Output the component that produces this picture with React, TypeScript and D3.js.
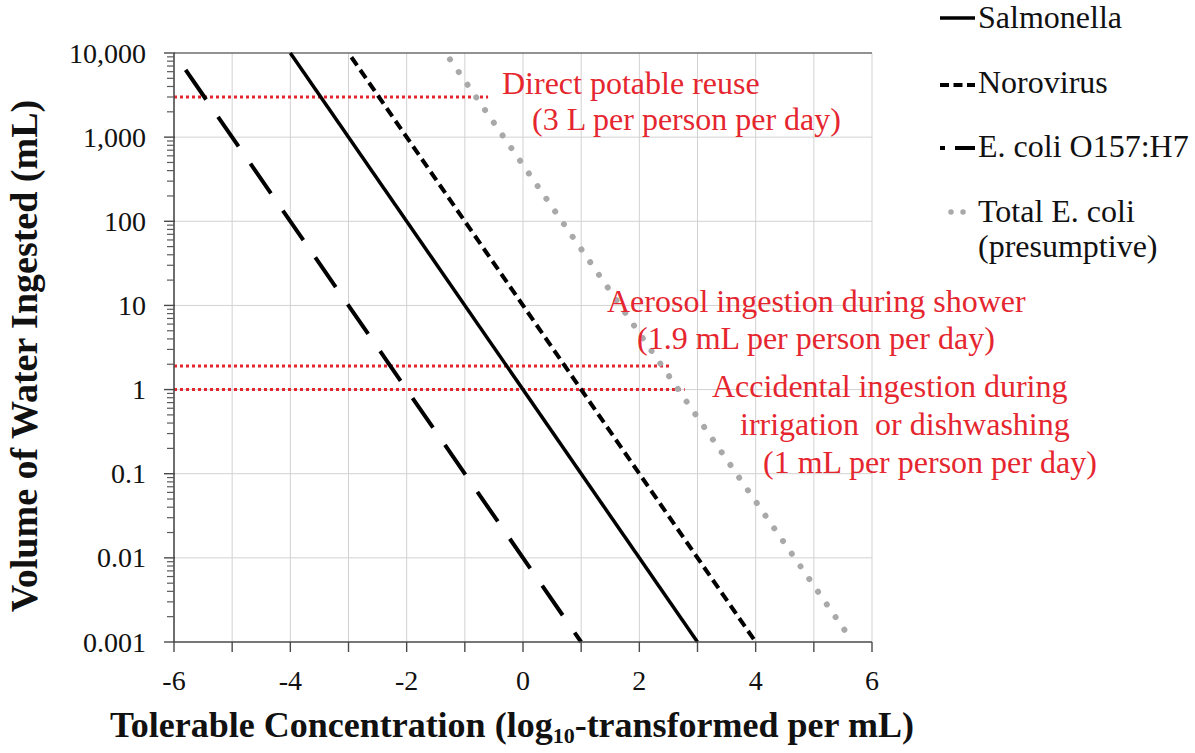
import React from 'react';
import * as d3 from 'd3';

// ---- data ----
const xTicks = [-6, -5, -4, -3, -2, -1, 0, 1, 2, 3, 4, 5, 6];
const xLabelTicks = [-6, -4, -2, 0, 2, 4, 6];
const yTicks = [0.001, 0.01, 0.1, 1, 10, 100, 1000, 10000];
const yTickLabels = ['0.001', '0.01', '0.1', '1', '10', '100', '1,000', '10,000'];

const salmonella = [{ x: -4, y: 10000 }, { x: 3, y: 0.001 }];
const norovirus = [{ x: -2.95, y: 8900 }, { x: 4, y: 0.001 }];
const ecoliO157 = [{ x: -5.8, y: 6300 }, { x: 1, y: 0.001 }];
const totalEcoli = [{ x: -1.255, y: 8400 }, { x: 5.67, y: 0.001 }];

const seriesNames = ['Salmonella', 'Norovirus', 'E. coli O157:H7', 'Total E. coli'];

const exposureVolumes = [3000, 1.9, 1];
const exposureXEnd = [-0.6, 2.56, 2.78];

const annotationLines = [
  'Direct potable reuse',
  '(3 L per person per day)',
  'Aerosol ingestion during shower',
  '(1.9 mL per person per day)',
  'Accidental ingestion during',
  'irrigation  or dishwashing',
  '(1 mL per person per day)',
];

// ---- layout ----
const W = 1195;
const H = 753;
const X0 = 174, X1 = 872, Y0 = 642, Y1 = 53;
const FONT = "'Liberation Serif', 'Times New Roman', Times, serif";
const RED = '#e5262f';
const annotationPos = [
  [502, 94], [532, 130], [607, 312], [637, 349], [712, 397], [740, 435], [763, 473],
];

export default function App() {
  const x = d3.scaleLinear().domain([-6, 6]).range([X0, X1]);
  const y = d3.scaleLog().domain([0.001, 10000]).range([Y0, Y1]);
  const line = d3
    .line<{ x: number; y: number }>()
    .x((d) => x(d.x))
    .y((d) => y(d.y));

  const minorTicks: number[] = [];
  for (let e = -3; e < 4; e++) {
    for (let k = 2; k <= 9; k++) minorTicks.push(k * Math.pow(10, e));
  }

  const series = [
    { data: salmonella, stroke: '#000', width: 3.5, dash: undefined, cap: 'butt' },
    { data: norovirus, stroke: '#000', width: 4, dash: '10,5.5', cap: 'butt' },
    { data: ecoliO157, stroke: '#000', width: 4, dash: '36,21', cap: 'butt' },
    { data: totalEcoli, stroke: '#a9a9a9', width: 6, dash: '0.01,15.4', cap: 'round' },
  ];

  const legendY = [18, 85, 148, 212];
  const legendBase = [28, 93, 157, 222];
  const legendDash = [undefined, '9,4.5', '5,10,22', '0.01,12'];

  return (
    <svg
      width={W}
      height={H}
      style={{ position: 'absolute', left: 0, top: 0, background: '#fff', fontFamily: FONT }}
    >
      <rect x={0} y={0} width={W} height={H} fill="#fff" />
      {/* grid */}
      {xTicks.filter((t) => t > -6).map((t) => (
        <line key={'gx' + t} x1={x(t)} x2={x(t)} y1={Y1} y2={Y0} stroke="#d2d2d2" strokeWidth={1} />
      ))}
      {yTicks.filter((t) => t < 10000 && t > 0.001).map((t) => (
        <line key={'gy' + t} x1={X0} x2={X1} y1={y(t)} y2={y(t)} stroke="#d2d2d2" strokeWidth={1} />
      ))}
      <line x1={X0} x2={X1} y1={y(10000)} y2={y(10000)} stroke="#6e6e6e" strokeWidth={1.6} />

      {/* exposure lines */}
      {exposureVolumes.map((v, i) => (
        <line
          key={'ex' + i}
          x1={x(-6)}
          x2={x(exposureXEnd[i])}
          y1={y(v)}
          y2={y(v)}
          stroke={RED}
          strokeWidth={3}
          strokeDasharray="3,3"
        />
      ))}

      {/* series */}
      {series.map((s, i) => (
        <path
          key={'s' + i}
          d={line(s.data) || ''}
          fill="none"
          stroke={s.stroke}
          strokeWidth={s.width}
          strokeDasharray={s.dash}
          strokeLinecap={s.cap as any}
        />
      ))}

      {/* axes */}
      <line x1={X0} x2={X0} y1={Y1} y2={Y0} stroke="#4a4a4a" strokeWidth={1.6} />
      <line x1={X0} x2={X1} y1={Y0} y2={Y0} stroke="#4a4a4a" strokeWidth={1.6} />
      {yTicks.map((t) => (
        <line key={'yt' + t} x1={X0 - 10} x2={X0 + 1} y1={y(t)} y2={y(t)} stroke="#4a4a4a" strokeWidth={1.4} />
      ))}
      {minorTicks.map((t) => (
        <line key={'ym' + t} x1={X0 - 7} x2={X0} y1={y(t)} y2={y(t)} stroke="#5a5a5a" strokeWidth={1.2} />
      ))}
      {xTicks.map((t) => (
        <line key={'xt' + t} x1={x(t)} x2={x(t)} y1={Y0} y2={Y0 + 10} stroke="#4a4a4a" strokeWidth={1.4} />
      ))}
      {yTicks.map((t, i) => (
        <text key={'yl' + t} x={146} y={y(t) + 9.5} textAnchor="end" fontSize={28} fill="#111">
          {yTickLabels[i]}
        </text>
      ))}
      {xLabelTicks.map((t) => (
        <text key={'xl' + t} x={x(t)} y={690} textAnchor="middle" fontSize={28} fill="#111">
          {String(t)}
        </text>
      ))}

      {/* axis titles */}
      <text
        transform="translate(37,356) rotate(-90)"
        textAnchor="middle"
        fontSize={38}
        fontWeight="bold"
        fill="#111"
      >
        Volume of Water Ingested (mL)
      </text>
      <text x={110} y={737} fontSize={36} fontWeight="bold" fill="#111">
        Tolerable Concentration (log
        <tspan fontSize={22} dy={6}>10</tspan>
        <tspan dy={-6}>-transformed per mL)</tspan>
      </text>

      {/* annotations */}
      {annotationLines.map((t, i) => (
        <text
          key={'an' + i}
          x={annotationPos[i][0]}
          y={annotationPos[i][1]}
          fontSize={32}
          fill={RED}
          style={{ whiteSpace: 'pre' }}
        >
          {t}
        </text>
      ))}

      {/* legend */}
      {seriesNames.map((n, i) => (
        <g key={'lg' + i}>
          <line
            x1={i === 3 ? 951 : 940}
            x2={i === 3 ? 965 : 975}
            y1={legendY[i]}
            y2={legendY[i]}
            stroke={series[i].stroke}
            strokeWidth={i === 3 ? 5.5 : series[i].width}
            strokeDasharray={legendDash[i]}
            strokeLinecap={series[i].cap as any}
          />
          <text x={978} y={legendBase[i]} fontSize={32} fill="#111">
            {n}
          </text>
        </g>
      ))}
      <text x={978} y={257} fontSize={32} fill="#111">
        (presumptive)
      </text>
    </svg>
  );
}
